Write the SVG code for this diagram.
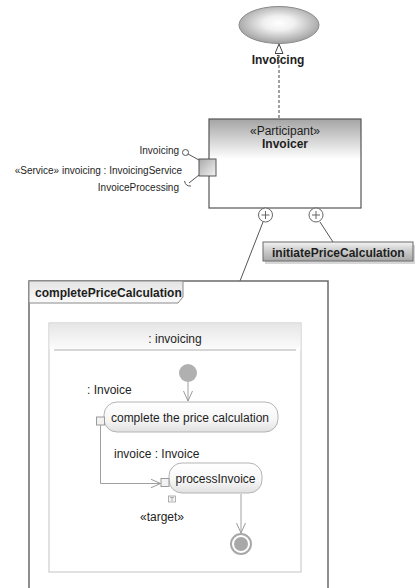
<svg xmlns="http://www.w3.org/2000/svg" width="415" height="588" viewBox="0 0 415 588">
<defs>
<radialGradient id="gEll" cx="50%" cy="45%" r="55%">
<stop offset="0" stop-color="#ffffff"/>
<stop offset="0.35" stop-color="#f0f0f0"/>
<stop offset="1" stop-color="#a0a0a0"/>
</radialGradient>
<linearGradient id="gBox" x1="0" y1="0" x2="0" y2="1">
<stop offset="0" stop-color="#a4a4a4"/>
<stop offset="0.45" stop-color="#ffffff"/>
<stop offset="1" stop-color="#ffffff"/>
</linearGradient>
<linearGradient id="gPort" x1="0" y1="0" x2="1" y2="1">
<stop offset="0" stop-color="#a8a8a8"/>
<stop offset="1" stop-color="#f4f4f4"/>
</linearGradient>
<linearGradient id="gTab" x1="0" y1="0" x2="0" y2="1">
<stop offset="0" stop-color="#f4f4f4"/>
<stop offset="0.4" stop-color="#d0d0d0"/>
<stop offset="1" stop-color="#a8a8a8"/>
</linearGradient>
<linearGradient id="gFrameTab" x1="0" y1="0" x2="0" y2="1">
<stop offset="0" stop-color="#e4e4e4"/>
<stop offset="1" stop-color="#fafafa"/>
</linearGradient>
<linearGradient id="gAct" x1="0" y1="0" x2="0" y2="1">
<stop offset="0" stop-color="#e6e6e6"/>
<stop offset="1" stop-color="#fcfcfc"/>
</linearGradient>
<linearGradient id="gNode" x1="0" y1="0" x2="0" y2="1">
<stop offset="0" stop-color="#ffffff"/>
<stop offset="0.6" stop-color="#f6f6f6"/>
<stop offset="1" stop-color="#e0e0e0"/>
</linearGradient>
<marker id="hollowTri" viewBox="0 0 10 9" refX="10" refY="4.5" markerWidth="10" markerHeight="9" markerUnits="userSpaceOnUse" orient="auto">
<path d="M0.5,0.5 L10,4.5 L0.5,8.5 Z" fill="#ffffff" stroke="#444" stroke-width="1"/>
</marker>
<marker id="openArr" viewBox="0 0 10 10" refX="10" refY="5" markerWidth="10" markerHeight="10" markerUnits="userSpaceOnUse" orient="auto">
<path d="M0,0.5 L10,5 L0,9.5" fill="none" stroke="#9a9a9a" stroke-width="1"/>
</marker>
</defs>
<style>
text { font-family: "Liberation Sans", Arial, sans-serif; fill: #1e1e1e; }
.b { font-weight: bold; font-size: 12px; }
.r { font-size: 12px; }
.s { font-size: 10px; }
.plus { fill: #ffffff; stroke: #666; stroke-width: 1; }
.act { fill: url(#gNode); stroke: #b4b4b4; stroke-width: 1; }
.pin { fill: #f2f2f2; stroke: #9a9a9a; stroke-width: 1; }
.flow { fill: none; stroke: #a0a0a0; stroke-width: 1; }
.conn { fill: none; stroke: #555; stroke-width: 1; }
</style>
<rect width="415" height="588" fill="#ffffff"/>

<g id="collaboration-Invoicing">
<ellipse cx="279" cy="25" rx="40" ry="18.5" fill="url(#gEll)" stroke="#8a8a8a" stroke-width="1"/>
<text class="b" x="278" y="64" text-anchor="middle">Invoicing</text>
</g>

<g id="participant-Invoicer">
<rect x="209" y="119" width="152" height="89" fill="url(#gBox)" stroke="#555" stroke-width="1.2"/>
<text class="r" x="285" y="135" text-anchor="middle">«Participant»</text>
<text class="b" x="285" y="148" text-anchor="middle">Invoicer</text>
</g>

<g id="port-invoicing">
<rect x="199" y="159" width="17" height="17" fill="url(#gPort)" stroke="#555" stroke-width="1"/>
<line x1="199" y1="160" x2="188" y2="154" stroke="#555"/>
<circle cx="185.5" cy="152.5" r="3" fill="#fff" stroke="#555"/>
<line x1="199" y1="175" x2="189" y2="183" stroke="#555"/>
<path d="M184.5,181 Q185.5,186.5 191,186" fill="none" stroke="#555"/>
<text class="s" x="179" y="154" text-anchor="end">Invoicing</text>
<text class="s" x="182" y="174" text-anchor="end">«Service» invoicing : InvoicingService</text>
<text class="s" x="179" y="191" text-anchor="end">InvoiceProcessing</text>
</g>

<g id="owned-behaviour-plus">
<circle class="plus" cx="265.5" cy="215" r="7"/>
<path d="M261.5,215 H269.5 M265.5,211 V219" stroke="#666"/>
<circle class="plus" cx="316" cy="215" r="7"/>
<path d="M312,215 H320 M316,211 V219" stroke="#666"/>
</g>

<g id="behaviour-initiatePriceCalculation">
<rect x="265" y="245" width="150" height="19" fill="#bdbdbd" opacity="0.6"/>
<rect x="263" y="242" width="150" height="19" fill="url(#gTab)" stroke="#6a6a6a" stroke-width="1"/>
<text class="b" x="272" y="256.5">initiatePriceCalculation</text>
</g>

<g id="connectors">
<line x1="279" y1="118" x2="279" y2="44" stroke="#444" stroke-width="1" stroke-dasharray="3,2" marker-end="url(#hollowTri)"/>
<line class="conn" x1="263" y1="222" x2="240" y2="281"/>
<line class="conn" x1="320" y1="222" x2="333" y2="242"/>
</g>

<g id="frame-completePriceCalculation">
<rect x="29" y="281" width="299" height="320" fill="#ffffff" stroke="#6a6a6a" stroke-width="1.5"/>
<path d="M29,281 H183 V297 L178,303 H29 Z" fill="url(#gFrameTab)" stroke="#8a8a8a" stroke-width="1"/>
<text class="b" x="35" y="297">completePriceCalculation</text>
</g>

<g id="activity-invoicing">
<rect x="49" y="323" width="252" height="249" fill="#ffffff" stroke="#c4c4c4" stroke-width="1"/>
<rect x="49.5" y="323.5" width="251" height="26" fill="url(#gAct)"/>
<line x1="54" y1="350" x2="296" y2="350" stroke="#c8c8c8" stroke-width="1.5"/>
<text class="r" x="175" y="343" text-anchor="middle">: invoicing</text>
</g>

<g id="initial-node">
<circle cx="188" cy="373" r="9" fill="#b0b0b0"/>
</g>

<g id="action-complete">
<rect x="104" y="402" width="174" height="30" rx="13" ry="13" class="act"/>
<rect x="96.5" y="417" width="8" height="8" class="pin"/>
<text class="r" x="190" y="421.5" text-anchor="middle">complete the price calculation</text>
<text class="r" x="87" y="394">: Invoice</text>
</g>

<g id="action-processInvoice">
<rect x="169" y="463" width="93" height="30" rx="13" ry="13" class="act"/>
<rect x="161" y="478.5" width="8" height="8" class="pin"/>
<rect x="168.5" y="496" width="7" height="6" fill="#f4f4f4" stroke="#a0a0a0" stroke-width="0.8"/>
<path d="M170,497.5 H174 M172,497.5 V501" stroke="#a0a0a0" stroke-width="0.8"/>
<text class="r" x="215.5" y="483" text-anchor="middle">processInvoice</text>
<text class="r" x="114" y="458">invoice : Invoice</text>
<text class="r" x="140" y="521">«target»</text>
</g>

<g id="final-node">
<circle cx="241" cy="544" r="10" fill="#ffffff" stroke="#a8a8a8" stroke-width="2"/>
<circle cx="241" cy="544" r="7" fill="#a8a8a8"/>
</g>

<g id="activity-flows">
<line class="flow" x1="188" y1="382" x2="188" y2="401" marker-end="url(#openArr)"/>
<path class="flow" d="M100.5,425 V483.5 H160.5" marker-end="url(#openArr)"/>
<line class="flow" x1="241" y1="494" x2="241" y2="533" marker-end="url(#openArr)"/>
</g>
</svg>
